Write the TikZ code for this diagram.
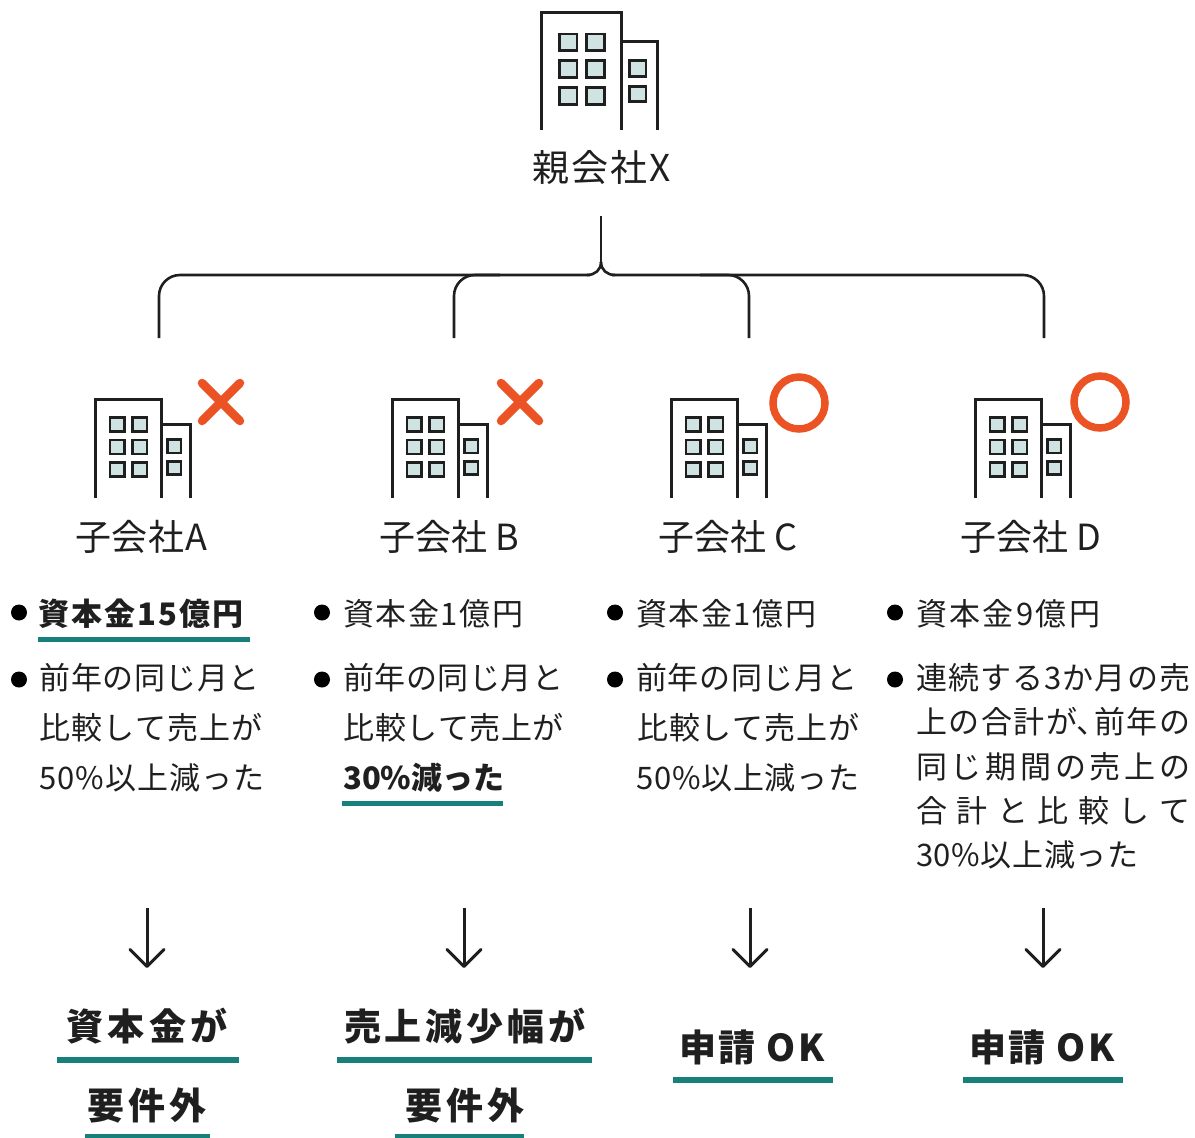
\documentclass[tikz,border=0pt]{standalone}
\usepackage{fontspec}
\setmainfont{Noto Sans CJK JP}
\usetikzlibrary{arrows.meta}
\definecolor{ink}{HTML}{1F1F1F}
\definecolor{tealbar}{HTML}{17807A}
\definecolor{win}{HTML}{CFE3E3}
\definecolor{mk}{HTML}{EB5324}
\tikzset{
  wall/.style={draw=ink,line width=3pt},
  winbox/.style={draw=ink,line width=2.8pt,fill=win},
  conn/.style={draw=ink,line width=2.6pt},
  arr/.style={draw=ink,line width=3pt,-{Straight Barb[length=17pt,width=34pt,line width=3pt,round]}},
  txt/.style={inner sep=0pt,anchor=base west,text=ink,font=\fontsize{31}{31}\selectfont},
  btxt/.style={txt,font=\fontsize{31}{31}\bfseries\selectfont},
  nm/.style={inner sep=0pt,anchor=base,text=ink,font=\fontsize{36}{36}\selectfont},
  res/.style={inner sep=0pt,anchor=base,text=ink,font=\fontsize{37}{37}\bfseries\selectfont},
  uline/.style={draw=tealbar,line width=5pt},
  bar/.style={draw=tealbar,line width=6pt},
  bul/.style={circle,fill=black,inner sep=0pt,minimum size=16pt}
}
\def\spcA#1#2{#1\ifx#2\relax\else\hfill\expandafter\spcA\expandafter#2\fi}
\newcommand{\jw}[2]{\makebox[#1pt][s]{\spcA#2\relax}}
\newcommand{\bldg}[4]{%
\begin{scope}[shift={(#1,#2)},xscale=#3,yscale=#4]
  \draw[wall] (0,99)--(0,0)--(66,0)--(66,99);
  \draw[wall] (66,25)--(95,25)--(95,99);
  \foreach \x in {15,37.5}\foreach \y in {18.5,41,63.5}
    \draw[winbox] (\x,\y) rectangle ++(14.5,14);
  \draw[winbox] (72.5,40.5) rectangle ++(13.5,13.5);
  \draw[winbox] (72.5,62.5) rectangle ++(13.5,13);
\end{scope}}
\newcommand{\cross}[2]{\draw[mk,line width=8.5pt,line cap=round] (#1-19,#2-19)--(#1+19,#2+19) (#1-19,#2+19)--(#1+19,#2-19);}
\newcommand{\ring}[2]{\draw[mk,line width=7.5pt] (#1,#2) circle (26);}
\begin{document}
\begin{tikzpicture}[x=1pt,y=-1pt]
\useasboundingbox (0,0) rectangle (1195,1138);
\bldg{541}{12}{1.222}{1.19}
\node[nm,font=\fontsize{37}{37}\selectfont] (parent) at (601.5,181) {\makebox[139pt][s]{親\hfill 会\hfill 社\hfill X}};
\coordinate (rt) at (601,216);
\coordinate (j) at (601,262);
\coordinate (a) at (159,338);
\coordinate (b) at (454,338);
\coordinate (c) at (749,338);
\coordinate (d) at (1044,338);
\draw[conn] (rt)--(j);
\draw[conn] (j) .. controls (601,270) and (595,275) .. (587,275);
\draw[conn] (j) .. controls (601,270) and (607,275) .. (615,275);
\draw[conn,rounded corners=21pt] (a) -- (159,275) -- (590,275);
\draw[conn,rounded corners=21pt] (d) -- (1044,275) -- (612,275);
\draw[conn,rounded corners=21pt] (b) -- (454,275) -- (500,275);
\draw[conn,rounded corners=21pt] (c) -- (749,275) -- (700,275);
\bldg{95}{399}{1}{1}
\bldg{392}{399}{1}{1}
\bldg{671}{399}{1}{1}
\bldg{975}{399}{1}{1}
\cross{221}{402}
\cross{520}{402}
\ring{799}{403}
\ring{1100}{402}
\node[nm,anchor=base west] (na) at (75,550) {\makebox[132pt][s]{子\hfill 会\hfill 社\hfill A}};
\node[nm,anchor=base west] (nb) at (379,550) {子会社 B};
\node[nm,anchor=base west] (nc) at (658,550) {子会社 C};
\node[nm,anchor=base west] (nd) at (960,550) {子会社 D};
% column A
\node[bul] (ba1) at (19,612.5) {};
\node[btxt] (ta1) at (38,625) {\jw{205}{資本金15億円}};
\draw[uline] (38,639)--(250,639);
\node[bul] (ba2) at (19,679.5) {};
\node[txt] (ta2) at (39.5,689) {\jw{220}{前年の同じ月と}};
\node[txt] (ta3) at (39.5,739) {\jw{223}{比較して売上が}};
\node[txt] (ta4) at (39,789) {\jw{225}{50\%以上減った}};
% column B
\node[bul] (bb1) at (322,612.5) {};
\node[txt] (tb1) at (343,625) {\jw{180}{資本金1億円}};
\node[bul] (bb2) at (322,679.5) {};
\node[txt] (tb2) at (343,689) {\jw{220}{前年の同じ月と}};
\node[txt] (tb3) at (343.5,739) {\jw{220}{比較して売上が}};
\node[btxt] (tb4) at (343,789) {\jw{160}{30\%減った}};
\draw[uline] (342,803)--(503,803);
% column C
\node[bul] (bc1) at (615,612.5) {};
\node[txt] (tc1) at (636,625) {\jw{180}{資本金1億円}};
\node[bul] (bc2) at (615,679.5) {};
\node[txt] (tc2) at (636,689) {\jw{221}{前年の同じ月と}};
\node[txt] (tc3) at (637,739) {\jw{222}{比較して売上が}};
\node[txt] (tc4) at (636,789) {\jw{223}{50\%以上減った}};
% column D
\node[bul] (bd1) at (895,612.5) {};
\node[txt] (td1) at (916,625) {\jw{184}{資本金9億円}};
\node[bul] (bd2) at (895,679.5) {};
\node[txt] (td2) at (916,689) {\jw{274}{連続する3か月の売}};
\node[txt] (td3) at (916,733) {\makebox[274pt][s]{上\hfill の\hfill 合\hfill 計\hfill が、\hspace{-15pt}\hfill 前\hfill 年\hfill の}};
\node[txt] (td4) at (916,778) {\jw{274}{同じ期間の売上の}};
\node[txt] (td5) at (916,822) {\jw{274}{合計と比較して}};
\node[txt] (td6) at (916,866) {\jw{222}{30\%以上減った}};
% arrows
\coordinate (a1) at (147,908); \coordinate (a2) at (147,968);
\coordinate (b1) at (464,908); \coordinate (b2) at (464,968);
\coordinate (c1) at (750,908); \coordinate (c2) at (750,968);
\coordinate (d1) at (1043,908); \coordinate (d2) at (1043,968);
\draw[arr] (a1)--(a2);
\draw[arr] (b1)--(b2);
\draw[arr] (c1)--(c2);
\draw[arr] (d1)--(d2);
% results
\node[res] (ra1) at (147,1040) {\jw{162}{資本金が}};
\draw[bar] (57,1060)--(239,1060);
\node[res] (ra2) at (147,1119) {\jw{120}{要件外}};
\draw[bar] (85,1137)--(210,1137);
\node[res] (rb1) at (465,1040) {\jw{242}{売上減少幅が}};
\draw[bar] (337,1060)--(592,1060);
\node[res] (rb2) at (465,1119) {\jw{120}{要件外}};
\draw[bar] (395,1137)--(524,1137);
\node[res] (rc) at (752,1061) {\makebox[145pt][s]{申\hspace{2pt}請\hfill O\hspace{3pt}K}};
\draw[bar] (673,1080)--(833,1080);
\node[res] (rd) at (1042,1061) {\makebox[145pt][s]{申\hspace{2pt}請\hfill O\hspace{3pt}K}};
\draw[bar] (963,1080)--(1123,1080);
\end{tikzpicture}
\end{document}
